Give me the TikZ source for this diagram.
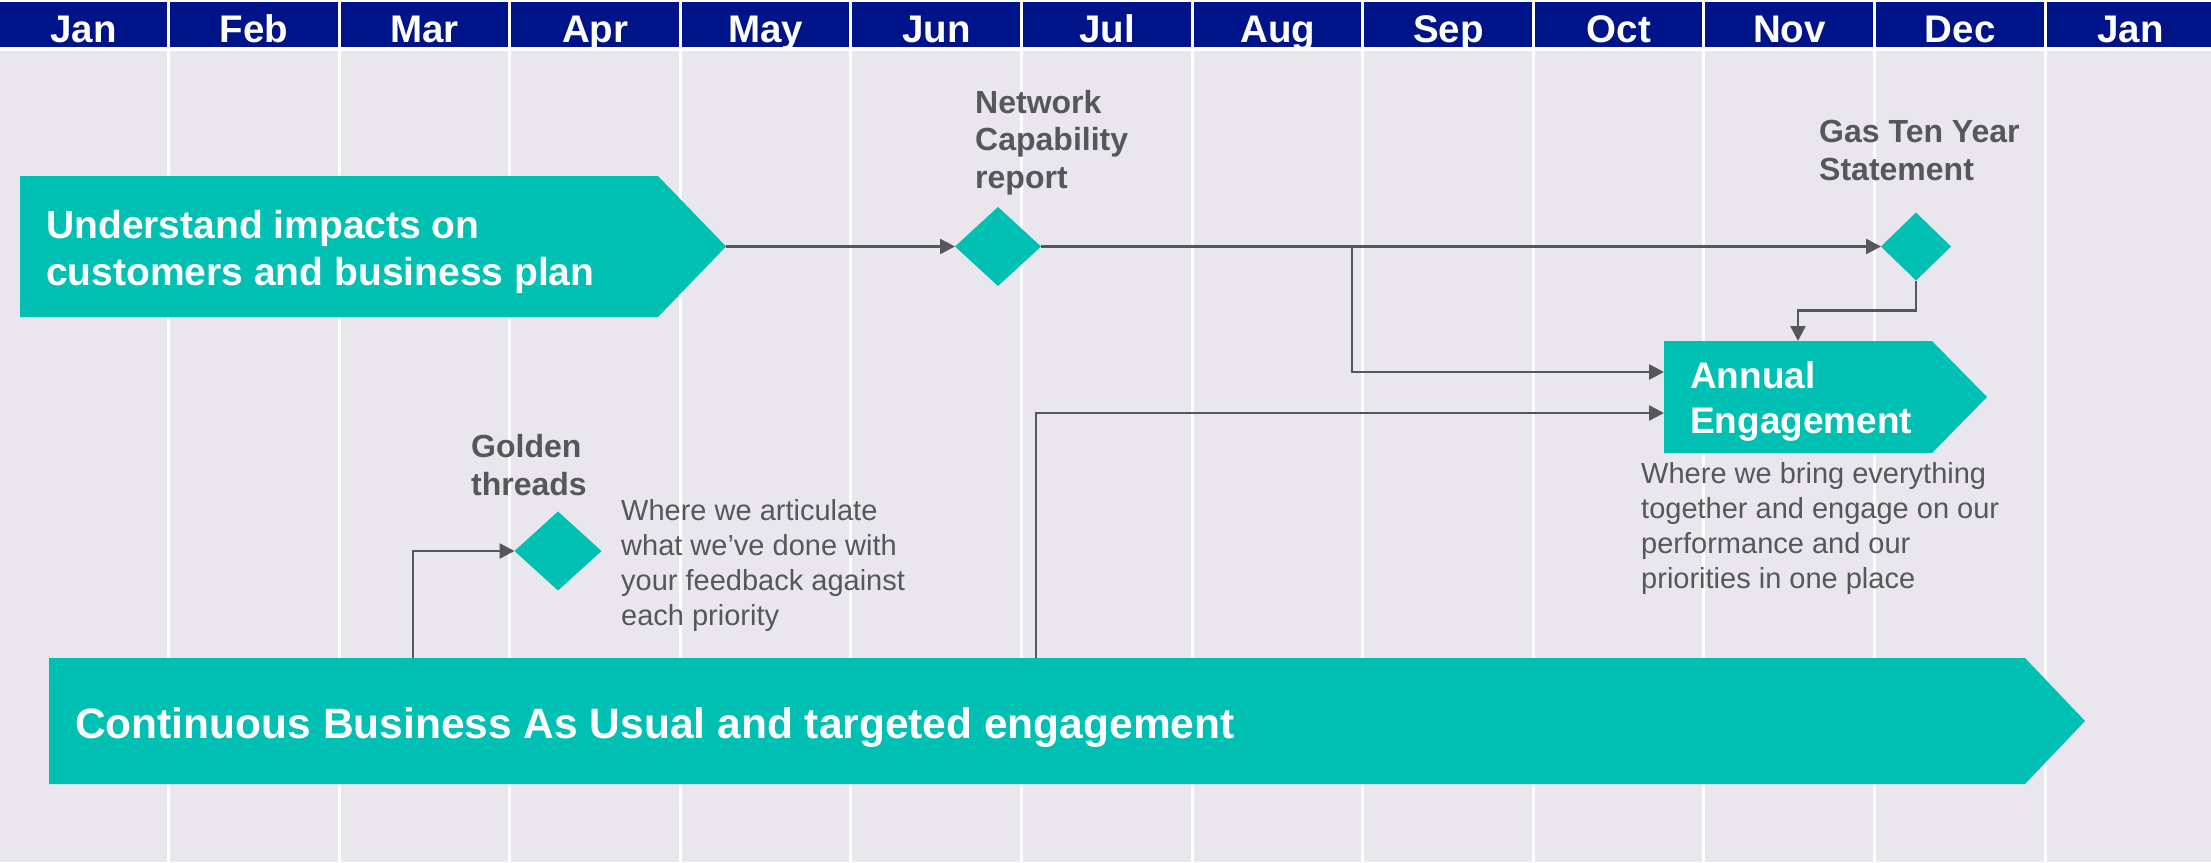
\documentclass[tikz,border=0pt]{standalone}
\usepackage{fontspec}
\setmainfont{Liberation Sans}
\usetikzlibrary{shapes.geometric,arrows.meta}
\definecolor{navy}{RGB}{0,20,137}
\definecolor{teal}{RGB}{0,191,179}
\definecolor{bggray}{RGB}{233,231,237}
\definecolor{dgray}{RGB}{87,86,91}
\begin{document}
\begin{tikzpicture}[x=1pt,y=-1pt,
  month/.style={text=white,font=\bfseries\fontsize{38.5}{40}\selectfont,anchor=base,inner sep=0},
  gridline/.style={white,line width=3pt},
  milestone/.style={diamond,fill=teal,inner sep=0,outer sep=0},
  conn/.style={draw=dgray,line width=2.5pt,-{Triangle[length=15pt,width=15pt]}},
  band/.style={inner sep=0,outer sep=0},
  bandtext/.style={text=white,font=\bfseries\fontsize{39}{47}\selectfont,align=left,anchor=north west,inner sep=0},
  mslabel/.style={text=dgray,font=\bfseries\fontsize{32}{38.5}\selectfont,align=left,anchor=north west,inner sep=0},
  desc/.style={text=dgray,font=\fontsize{29}{35}\selectfont,align=left,anchor=north west,inner sep=0}
]
\useasboundingbox (0,0) rectangle (2211,862);
\fill[white] (0,0) rectangle (2211,862);
\fill[navy] (0,2) rectangle (2211,47);
\fill[bggray] (0,51) rectangle (2211,862);
\foreach \i in {0,...,11} \draw[gridline] ({168.5+170.6*\i},0) -- ({168.5+170.6*\i},862);
\foreach \m [count=\i from 0] in {Jan,Feb,Mar,Apr,May,Jun,Jul,Aug,Sep,Oct,Nov,Dec,Jan}
  \node[month] (m\i) at ({83.5+170.6*\i},42) {\m};

% band 1
\node[band,minimum width=638pt,minimum height=141pt,anchor=north west] (b1) at (20,176) {};
\fill[teal] (b1.north west) -- (b1.north east) -- ([xshift=68pt]b1.east) -- (b1.south east) -- (b1.south west) -- cycle;
\coordinate (b1tip) at ([xshift=68pt]b1.east);
\node[bandtext] (b1t) at (46,209.7) {Understand impacts on\\customers and business plan};

% bottom band
\node[band,minimum width=1976pt,minimum height=126pt,anchor=north west] (bb) at (49,658) {};
\fill[teal] (bb.north west) -- (bb.north east) -- ([xshift=60pt]bb.east) -- (bb.south east) -- (bb.south west) -- cycle;
\node[text=white,font=\bfseries\fontsize{42.5}{50}\selectfont,anchor=base west,inner sep=0] (bbt) at (75,738) {Continuous Business As Usual and targeted engagement};

% annual engagement
\node[band,minimum width=268pt,minimum height=112pt,anchor=north west] (ae) at (1664,341) {};
\fill[teal] (ae.north west) -- (ae.north east) -- ([xshift=55pt]ae.east) -- (ae.south east) -- (ae.south west) -- cycle;
\node[bandtext,font=\bfseries\fontsize{37}{45}\selectfont] (aet) at (1690,361.2) {Annual\\Engagement};
\node[desc] (aed) at (1641,462) {Where we bring everything\\together and engage on our\\performance and our\\priorities in one place};

% milestones
\node[milestone,minimum width=86pt,minimum height=79pt] (nc) at (998,246.5) {};
\node[mslabel,font=\bfseries\fontsize{32}{37.5}\selectfont] (ncl) at (975,89.8) {Network\\Capability\\report};
\node[milestone,minimum width=70pt,minimum height=68pt] (gas) at (1916,246.5) {};
\node[mslabel] (gasl) at (1819,119.8) {Gas Ten Year\\Statement};
\node[milestone,minimum width=87pt,minimum height=79pt] (gt) at (558,551) {};
\node[mslabel] (gtl) at (471,433.8) {Golden\\threads};
\node[desc] (gtd) at (621,499) {Where we articulate\\what we’ve done with\\your feedback against\\each priority};

% connectors
\coordinate (br) at (1352,246.5);
\coordinate (aeinA) at (1664,372);
\coordinate (aeinB) at (1664,413);
\coordinate (bbA) at (1036,658);
\coordinate (bbB) at (413,658);
\draw[conn] (b1tip) -- (nc.west);
\draw[conn] (nc.east) -- (gas.west);
\draw[conn] (br) |- (aeinA);
\draw[conn] (gas.south) -- ++(0,30) -| (ae.north);
\draw[conn] (bbA) |- (aeinB);
\draw[conn] (bbB) |- (gt.west);
\end{tikzpicture}
\end{document}
